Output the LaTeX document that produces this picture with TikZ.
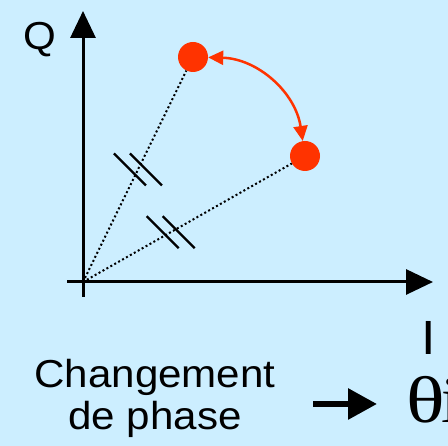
\documentclass[tikz,border=0pt]{standalone}
\usepackage{fontspec}
\setmainfont{Liberation Sans}[FakeStretch=1.08]
\newfontfamily\thetafont{Liberation Serif}
\usetikzlibrary{arrows.meta,calc}
\definecolor{bgcol}{RGB}{204,238,255}
\definecolor{ptcol}{RGB}{255,51,0}

\begin{document}
\begin{tikzpicture}[
  x=1pt, y=1pt,
  axisline/.style={line width=3pt, -{Triangle[length=27pt,width=25pt]}},
  ray/.style={line width=2pt, dash pattern=on 2pt off 2.5pt},
  phasept/.style={circle, fill=ptcol, minimum size=30pt, inner sep=0pt},
  tickmark/.style={line width=2.3pt},
  lbl/.style={inner sep=0pt, font=\fontsize{39}{42}\selectfont},
  swing/.style={{Triangle[length=15pt,width=14pt]}-{Triangle[length=15pt,width=14pt]},
                draw=ptcol, fill=none, line width=2.5pt},
  bigarr/.style={line width=6pt, -{Triangle[length=29pt,width=30pt]}}
]

%% Background and frame
\path[use as bounding box, fill=bgcol] (0,0) rectangle (448,446);

%% Axes
\coordinate (O) at (83,164);
\coordinate (ybot) at (83,149);
\coordinate (ytop) at (83,435);
\coordinate (xlft) at (67,164);
\coordinate (xrgt) at (433,164);
\draw[axisline] (ybot) -- (ytop);
\draw[axisline] (xlft) -- (xrgt);

%% Axis labels
\node[lbl, anchor=base] (qlbl) at (40,396) {Q};
\node[lbl, font=\fontsize{48}{48}\selectfont, anchor=base] (ilbl) at (429,91) {I};

%% Phase points
\node[phasept] (A) at (193,389) {};
\node[phasept] (B) at (305,290) {};

%% Rays from the origin
\draw[ray] (O) -- (A);
\draw[ray] (O) -- (B);

%% Equal-length marks
\coordinate (mA) at ($(O)!0.5!(A)$);
\coordinate (mB) at ($(O)!0.395!(B)$);
\foreach \dx in {-8,8} {
  \draw[tickmark] ($(mA)+(\dx-16,16)$) -- ++(32,-32);
  \draw[tickmark] ($(mB)+(\dx-16,16)$) -- ++(32,-32);
}

%% Phase swing
\draw[swing] (A) to[bend left=40] (B);

%% Caption
\node[lbl, align=center, anchor=north] (chg) at (155,86.5)
  {Changement\\de phase};
\coordinate (arrS) at (313,42);
\coordinate (arrE) at (377,42);
\draw[bigarr] (arrS) -- (arrE);
\node[inner sep=0pt, anchor=base west,
      font=\thetafont\fontsize{66}{66}\selectfont] (theta) at (406,23)
  {\scalebox{1.22}[1]{θ}\kern-3pt i};

\end{tikzpicture}
\end{document}
